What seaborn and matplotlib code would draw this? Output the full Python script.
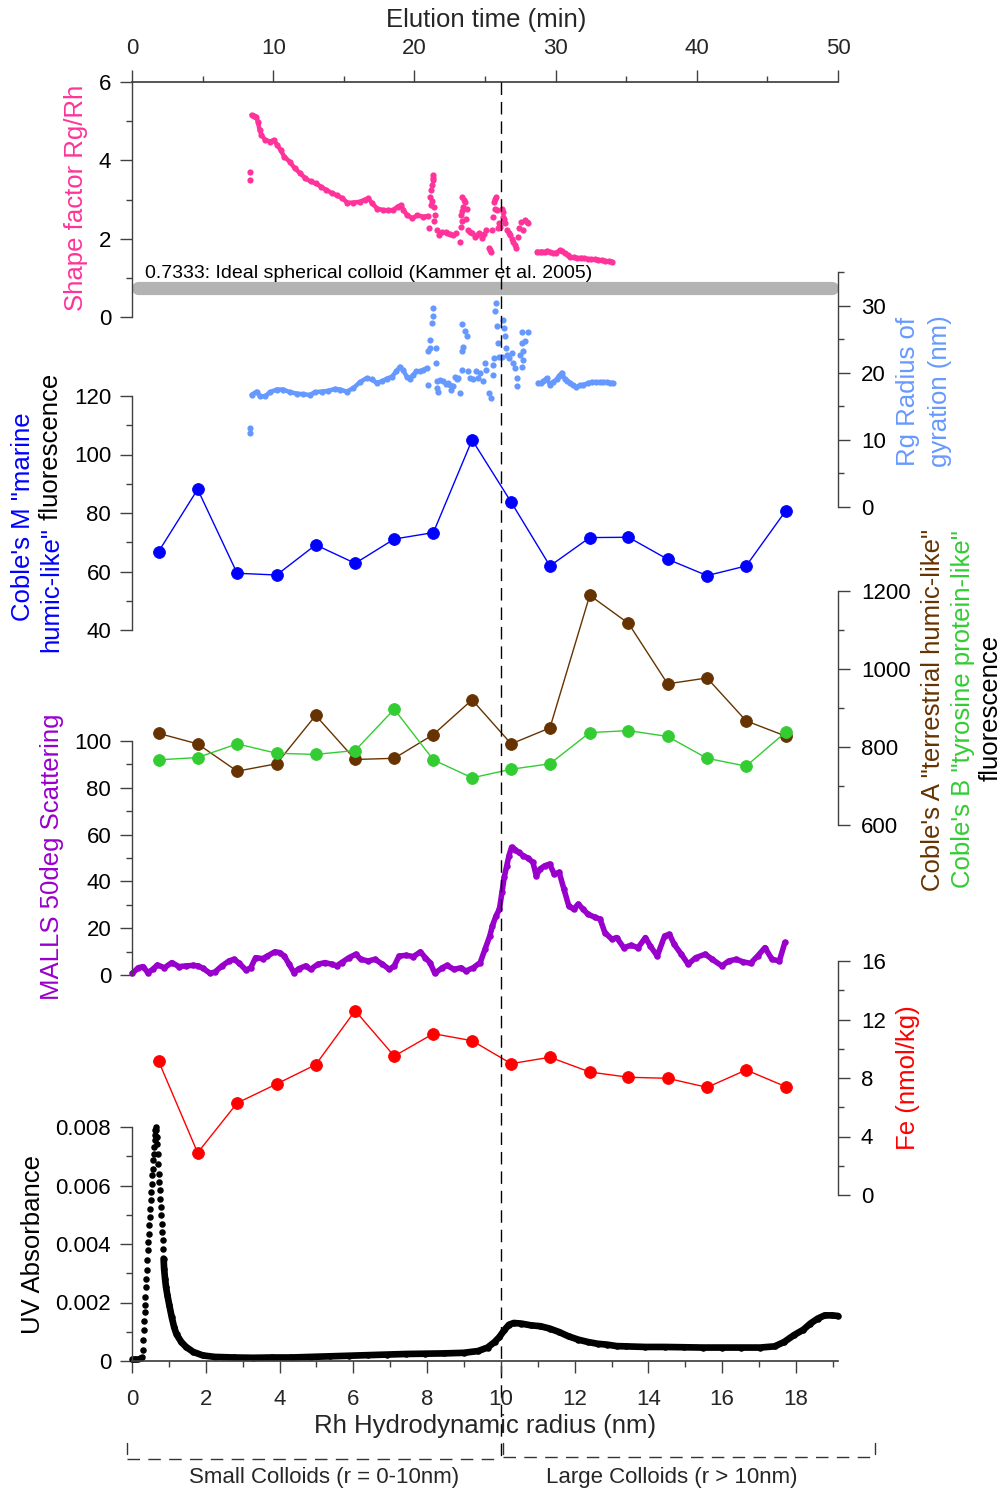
import numpy as np
import pandas as pd
import matplotlib
matplotlib.use("Agg")
import matplotlib.pyplot as plt
from matplotlib.lines import Line2D
from matplotlib.ticker import FixedLocator, FuncFormatter
from matplotlib.transforms import blended_transform_factory
import seaborn as sns

# ---------------- data ----------------
# collected fractions (hydrodynamic radius, nm)
fraction_rh = [0.72, 1.78, 2.85, 3.92, 4.98, 6.05, 7.11, 8.17, 9.22,
               10.28, 11.33, 12.41, 13.46, 14.52, 15.59, 16.65, 17.72]
coble_m = [66.8, 88.1, 59.4, 58.8, 69.1, 62.8, 71.1, 73.3, 105.0,
           83.7, 61.9, 71.6, 71.7, 64.2, 58.6, 61.9, 80.7]
coble_a = [835, 808, 738, 757, 881, 768, 771, 832, 921,
           808, 849, 1189, 1117, 962, 977, 867, 828]
coble_b = [767, 773, 808, 784, 781, 791, 897, 767, 721,
           743, 757, 837, 842, 827, 771, 751, 838]
fe_nmol = [9.16, 2.89, 6.29, 7.59, 8.91, 12.60, 9.50, 11.03, 10.55,
           8.98, 9.42, 8.41, 8.05, 7.98, 7.36, 8.55, 7.41]

# shape factor Rg/Rh
shape_rh = [3.24, 3.30, 3.37, 3.41, 3.46, 3.51, 3.61, 3.75, 3.84, 3.94,
            4.03, 4.13, 4.27, 4.41, 4.56, 4.70, 4.84, 4.98, 5.12, 5.27,
            5.41, 5.55, 5.70, 5.84, 5.98, 6.17, 6.32, 6.41, 6.51, 6.65,
            6.80, 6.94, 7.08, 7.20, 7.30, 7.36, 7.46, 7.60, 7.74, 7.89, 8.03]
shape_val = [5.16, 5.14, 5.11, 4.99, 4.77, 4.65, 4.52, 4.48, 4.52, 4.39,
             4.26, 4.09, 3.97, 3.80, 3.67, 3.54, 3.46, 3.41, 3.33, 3.24,
             3.17, 3.11, 3.03, 2.92, 2.92, 2.94, 3.00, 3.03, 2.90, 2.77,
             2.73, 2.73, 2.73, 2.82, 2.86, 2.73, 2.60, 2.52, 2.60, 2.56, 2.58]
shape_noisy_rh = [8.06, 8.08, 8.10, 8.13, 8.15, 8.17, 8.19, 8.22, 8.27, 8.31,
                  8.41, 8.50, 8.55, 8.62, 8.69, 8.79, 8.89, 8.91, 8.93, 8.95,
                  8.98, 9.03, 9.08, 9.12, 9.17, 9.22, 9.31, 9.36, 9.41, 9.50,
                  9.55, 9.60, 9.67, 9.70, 9.74, 9.77, 9.81, 9.87, 9.90, 9.93,
                  9.98, 10.03, 10.07, 10.12, 10.17, 10.22, 10.26, 10.30, 10.34, 10.38,
                  10.41, 10.46, 10.50, 10.55, 10.60, 10.65, 10.70, 10.74,
                  8.11, 8.14, 8.16, 8.20, 8.94, 8.96, 9.00, 9.05, 9.79, 9.83,
                  9.85, 9.95, 10.05, 10.09]
shape_noisy_val = [2.26, 3.07, 2.86, 3.37, 3.63, 3.50, 2.82, 2.60, 2.22, 2.09,
                   2.18, 2.16, 2.14, 2.12, 2.09, 2.14, 1.92, 2.31, 2.60, 3.07,
                   2.82, 2.94, 2.77, 2.22, 2.16, 2.14, 2.05, 2.10, 2.14, 2.01,
                   2.12, 2.22, 1.75, 1.70, 1.67, 2.22, 2.94, 3.07, 2.73, 2.26,
                   2.31, 2.77, 2.69, 2.39, 2.22, 2.15, 2.09, 2.00, 1.92, 1.85,
                   1.75, 2.05, 2.26, 2.43, 2.22, 2.48, 2.42, 2.39,
                   3.25, 2.95, 3.55, 2.45, 2.45, 2.70, 3.00, 2.50, 2.55, 2.75,
                   3.02, 2.40, 2.55, 2.50]
shape_tail_rh = [10.98, 11.05, 11.12, 11.19, 11.26, 11.33, 11.40, 11.50, 11.60, 11.67,
                 11.74, 11.81, 11.88, 11.97, 12.07, 12.16, 12.26, 12.36, 12.45, 12.55,
                 12.64, 12.74, 12.83, 12.93, 13.02]
shape_tail_val = [1.67, 1.66, 1.67, 1.65, 1.69, 1.66, 1.63, 1.64, 1.71, 1.68,
                  1.63, 1.58, 1.54, 1.52, 1.50, 1.51, 1.50, 1.48, 1.47, 1.47,
                  1.46, 1.45, 1.43, 1.42, 1.41]
shape_early_rh = [3.195, 3.195]
shape_early_val = [3.71, 3.50]
ideal_shape = 0.7333

# radius of gyration (nm)
rg_rh = [3.24, 3.38, 3.47, 3.61, 3.74, 3.92, 4.10, 4.28, 4.46, 4.64,
         4.82, 4.96, 5.14, 5.32, 5.50, 5.64, 5.82, 6.00, 6.18, 6.36,
         6.50, 6.63, 6.77, 6.90, 7.04, 7.17, 7.26, 7.35, 7.45, 7.53,
         7.63, 7.71, 7.81, 7.90, 7.99]
rg_val = [16.7, 17.2, 16.5, 16.5, 17.1, 17.5, 17.5, 17.1, 16.9, 16.8,
          16.7, 17.1, 17.2, 17.3, 17.6, 17.5, 17.2, 17.7, 18.6, 19.2,
          19.0, 18.5, 18.7, 19.1, 19.4, 20.2, 20.9, 20.4, 19.4, 19.1,
          19.7, 20.2, 20.2, 20.4, 20.7]
rg_noisy_rh = [8.03, 8.08, 8.09, 8.12, 8.17, 8.17, 8.24, 8.24, 8.03, 8.26,
               8.28, 8.30, 8.44, 8.57, 8.71, 8.80, 8.85, 8.89, 8.94, 8.94,
               8.98, 9.03, 8.94, 9.07, 9.12, 9.16, 9.25, 9.33, 9.39, 9.43,
               9.52, 9.57, 9.61, 9.69, 9.72, 9.78, 9.80, 9.81, 9.84, 9.87,
               9.89, 9.91, 9.95, 10.02, 10.06, 10.08, 10.11, 10.14, 10.17, 10.23,
               10.29, 10.34, 10.38, 10.43, 10.44, 10.52, 10.56, 10.56, 10.61, 10.65,
               10.59, 10.56, 10.74, 8.36, 8.50, 8.63, 8.66, 8.76]
rg_noisy_val = [23.2, 23.7, 24.9, 27.4, 28.5, 29.7, 23.7, 21.4, 18.1, 18.7,
                17.7, 17.2, 18.7, 18.5, 18.0, 19.0, 19.2, 17.0, 20.4, 23.2,
                23.9, 26.2, 27.3, 25.4, 20.2, 19.2, 19.0, 20.2, 19.2, 20.0,
                18.7, 21.4, 20.4, 17.0, 16.2, 19.7, 21.2, 22.2, 29.2, 30.4,
                26.9, 24.4, 22.4, 22.4, 27.9, 26.7, 25.4, 23.7, 22.7, 22.2,
                22.9, 21.4, 20.7, 19.2, 18.0, 22.7, 24.4, 26.0, 23.2, 24.7,
                21.9, 20.9, 26.1, 18.9, 18.3, 18.2, 17.4, 19.3]
rg_tail_rh = [11.01, 11.08, 11.15, 11.24, 11.33, 11.42, 11.51, 11.58, 11.65, 11.74,
              11.80, 11.87, 11.96, 12.05, 12.14, 12.23, 12.35, 12.46, 12.57, 12.68,
              12.78, 12.87, 12.95, 13.03]
rg_tail_val = [18.5, 18.4, 18.7, 19.2, 18.2, 18.6, 19.0, 19.5, 20.0, 19.0,
               18.7, 18.5, 18.1, 17.9, 18.1, 18.2, 18.4, 18.6, 18.6, 18.6,
               18.6, 18.6, 18.5, 18.5]
rg_early_rh = [3.20, 3.20]
rg_early_val = [11.7, 11.0]

# MALLS 50 degree scattering
malls_rh = [0.01, 0.17, 0.30, 0.43, 0.56, 0.69, 0.88, 1.08, 1.27, 1.47,
            1.66, 1.79, 1.92, 2.12, 2.25, 2.44, 2.63, 2.76, 2.89, 3.09,
            3.22, 3.35, 3.54, 3.67, 3.87, 4.00, 4.13, 4.26, 4.39, 4.52,
            4.71, 4.84, 5.04, 5.23, 5.42, 5.55, 5.68, 5.88, 6.07, 6.20,
            6.40, 6.59, 6.79, 6.98, 7.11, 7.24, 7.43, 7.63, 7.82, 7.95,
            8.08, 8.21, 8.41, 8.54, 8.73, 8.92, 9.05, 9.25, 9.44, 9.57,
            9.70, 9.77, 9.87, 9.96, 10.03, 10.09, 10.16, 10.22, 10.29, 10.39,
            10.48, 10.61, 10.74, 10.87, 10.96, 11.06, 11.19, 11.32, 11.45, 11.58,
            11.71, 11.84, 11.97, 12.10, 12.23, 12.36, 12.56, 12.69, 12.82, 13.01,
            13.14, 13.33, 13.53, 13.72, 13.92, 14.05, 14.24, 14.44, 14.57, 14.70,
            14.89, 15.08, 15.28, 15.54, 15.73, 15.99, 16.18, 16.38, 16.57, 16.77,
            16.96, 17.16, 17.35, 17.55, 17.70]
malls_val = [0.7, 3.1, 3.6, 1.0, 2.4, 4.3, 3.1, 5.3, 3.6, 3.9,
             4.1, 3.9, 2.9, 0.7, 1.3, 3.9, 6.0, 6.7, 5.3, 2.1,
             3.1, 7.4, 7.0, 8.1, 9.9, 9.6, 8.1, 4.6, 1.0, 2.7,
             3.9, 2.4, 4.6, 5.3, 4.6, 3.9, 5.3, 7.4, 8.9, 6.7,
             6.0, 6.7, 4.6, 2.4, 3.9, 8.1, 8.4, 7.9, 9.9, 7.4,
             5.3, 0.7, 3.1, 4.1, 2.4, 3.1, 1.7, 3.1, 5.3, 11.0,
             16.7, 21.0, 25.3, 28.1, 35.3, 41.7, 46.7, 51.0, 54.6, 53.6,
             52.4, 51.0, 49.9, 48.1, 42.4, 45.3, 46.7, 47.4, 43.1, 43.9,
             36.7, 29.6, 28.1, 30.3, 28.1, 26.0, 24.6, 23.9, 18.1, 15.3,
             16.0, 11.7, 12.7, 11.7, 16.0, 12.4, 8.1, 16.7, 17.4, 13.1,
             8.9, 4.6, 7.4, 8.9, 6.7, 3.9, 6.0, 6.7, 5.6, 5.0,
             8.1, 11.7, 6.7, 6.0, 13.9]

# UV absorbance: sharp early peak, then the rest of the fractogram
uv_peak_rh = [0.00, 0.04, 0.08, 0.12, 0.17, 0.21, 0.25,
              0.274, 0.287, 0.300, 0.313, 0.326, 0.339, 0.352, 0.364, 0.377, 0.390,
              0.403, 0.416, 0.429, 0.442, 0.455, 0.468, 0.481, 0.494, 0.507, 0.520,
              0.533, 0.546, 0.559, 0.572, 0.585, 0.598, 0.611, 0.624, 0.637, 0.650,
              0.663, 0.676, 0.689, 0.701, 0.714, 0.727, 0.740, 0.753, 0.766, 0.779,
              0.792, 0.805, 0.818, 0.831, 0.844]
uv_peak_val = [0.00008, 0.00008, 0.00008, 0.00008, 0.00008, 0.00009, 0.00010,
               0.00014, 0.00039, 0.00071, 0.00105, 0.00137, 0.00168, 0.00190, 0.00219, 0.00253, 0.00281,
               0.00310, 0.00344, 0.00378, 0.00407, 0.00435, 0.00464, 0.00492, 0.00521, 0.00549, 0.00578,
               0.00606, 0.00635, 0.00658, 0.00686, 0.00709, 0.00732, 0.00754, 0.00772, 0.00789, 0.00800,
               0.00789, 0.00766, 0.00743, 0.00709, 0.00675, 0.00640, 0.00612, 0.00583, 0.00555, 0.00526,
               0.00498, 0.00470, 0.00441, 0.00413, 0.00384]
uv_rh = [0.857, 0.870, 0.896, 0.922, 0.961,
         1.013, 1.077, 1.142, 1.207, 1.337, 1.466, 1.661, 1.921, 2.245, 2.76,
         3.28, 3.80, 4.32, 4.84, 5.36, 5.88, 6.39, 6.91, 7.43, 7.95,
         8.47, 8.99, 9.38, 9.64, 9.83, 9.96, 10.09, 10.22, 10.35, 10.55,
         10.81, 11.07, 11.32, 11.58, 11.84, 12.10, 12.36, 12.62, 12.88, 13.14,
         13.40, 13.92, 14.44, 14.96, 15.47, 15.99, 16.51, 17.03, 17.42, 17.68,
         17.94, 18.20, 18.39, 18.59, 18.78, 18.98, 19.14]
uv_val = [0.00350, 0.00316, 0.00281, 0.00253, 0.00224,
          0.00190, 0.00150, 0.00116, 0.00091, 0.00065, 0.00048, 0.00031, 0.00019, 0.00014, 0.00012,
          0.00011, 0.00012, 0.00012, 0.00014, 0.00016, 0.00018, 0.00020, 0.00022, 0.00024, 0.00025,
          0.00026, 0.00028, 0.00034, 0.00046, 0.00065, 0.00082, 0.00105, 0.00124, 0.00130, 0.00128,
          0.00122, 0.00119, 0.00111, 0.00099, 0.00084, 0.00073, 0.00065, 0.00059, 0.00056, 0.00051,
          0.00050, 0.00048, 0.00048, 0.00047, 0.00046, 0.00046, 0.00046, 0.00046, 0.00050, 0.00065,
          0.00088, 0.00107, 0.00128, 0.00145, 0.00156, 0.00156, 0.00154]

size_boundary_nm = 10
rh_max = 19.14          # 50 min of elution
elution_max = 50

# tick positions
rh_ticks = [0, 2, 4, 6, 8, 10, 12, 14, 16, 18]
rh_minor = [1, 3, 5, 7, 9, 11, 13, 15, 17, 19]
time_ticks = [0, 10, 20, 30, 40, 50]
time_minor = [5, 15, 25, 35, 45]

# ---------------- style ----------------
sns.set_theme(style="ticks")
plt.rcParams["font.family"] = ["Liberation Sans", "DejaVu Sans"]
plt.rcParams["lines.scale_dashes"] = False

C_PINK = "#ff3399"
C_LBLUE = "#6699ff"
C_BLUE = "#0000ff"
C_BROWN = "#663300"
C_GREEN = "#33cc33"
C_PURPLE = "#9900cc"
C_RED = "#ff0000"
AX_COL = "#404040"
TICK_FS = 16
LABEL_FS = 18.5

W, H = 1004, 1493
fig = plt.figure(figsize=(W / 100, H / 100), dpi=100)
fig.patch.set_facecolor("white")
X0, X1 = 132, 838


def fx(px):
    return px / W


def fy(py):
    return 1 - py / H


def band(top, bottom, ylim):
    ax = fig.add_axes([fx(X0), fy(bottom), (X1 - X0) / W, (bottom - top) / H])
    ax.patch.set_visible(False)
    for s in ax.spines.values():
        s.set_visible(False)
    ax.set_xticks([])
    ax.tick_params(axis="y", which="both", left=False, right=False,
                   labelleft=False, labelright=False)
    ax.set_xlim(0, rh_max)
    ax.set_ylim(*ylim)
    return ax


fmt = FuncFormatter(lambda v, _: "0" if abs(v) < 1e-12 else f"{v:g}")


def yaxis(ax, side, majors, minors):
    sp = ax.spines[side]
    sp.set_visible(True)
    sp.set_color(AX_COL)
    sp.set_linewidth(1.0)
    if side == "right":
        ax.yaxis.tick_right()
        ax.tick_params(axis="y", which="both", right=True, labelright=True)
    else:
        ax.yaxis.tick_left()
        ax.tick_params(axis="y", which="both", left=True, labelleft=True)
    ax.yaxis.set_major_locator(FixedLocator(majors))
    ax.yaxis.set_minor_locator(FixedLocator(minors))
    ax.yaxis.set_major_formatter(fmt)
    ax.tick_params(axis="y", which="major", direction="out", length=8.5, width=1,
                   color=AX_COL, labelcolor="black", labelsize=TICK_FS,
                   pad=6.5 if side == "left" else 8)
    ax.tick_params(axis="y", which="minor", direction="out", length=4.5, width=1,
                   color=AX_COL)


def trace(ax, x, y, color, lw=3.2, s=20):
    d = pd.DataFrame({"x": x, "y": y})
    sns.lineplot(data=d, x="x", y="y", ax=ax, color=color, linewidth=lw,
                 sort=False, estimator=None)
    sns.scatterplot(data=d, x="x", y="y", ax=ax, color=color, s=s, linewidth=0)


def dots(ax, x, y, color, s=20):
    d = pd.DataFrame({"x": x, "y": y})
    sns.scatterplot(data=d, x="x", y="y", ax=ax, color=color, s=s, linewidth=0)


def fractions(ax, y, color):
    d = pd.DataFrame({"x": fraction_rh, "y": y})
    sns.lineplot(data=d, x="x", y="y", ax=ax, color=color, linewidth=1.0,
                 marker="o", markersize=8.5, markeredgecolor=color,
                 markeredgewidth=0.6, sort=False, estimator=None)


# ---------------- panels ----------------
limits = {}
ax_shape = band(82, 317, (0, 6))
ax_rg = band(272, 507, (0, 35))
ax_m = band(396, 630, (40, 120))
ax_ab = band(591, 825, (600, 1200))
ax_malls = band(741, 975, (0, 100))
ax_fe = band(961, 1195, (0, 16))
ax_uv = band(1127, 1361, (0, 0.008))

# shape factor
ax_shape.axhline(ideal_shape, xmin=0.009, xmax=0.991, color="#b3b3b3", lw=9.5,
                 solid_capstyle="round", zorder=1)
ax_shape.text(0.35, ideal_shape + 0.37,
              "0.7333: Ideal spherical colloid (Kammer et al. 2005)",
              fontsize=14, color="black", ha="left", va="center")
trace(ax_shape, shape_rh, shape_val, C_PINK)
dots(ax_shape, shape_noisy_rh, shape_noisy_val, C_PINK)
trace(ax_shape, shape_tail_rh, shape_tail_val, C_PINK)
dots(ax_shape, shape_early_rh, shape_early_val, C_PINK)
yaxis(ax_shape, "left", [0, 2, 4, 6], [1, 3, 5])

# radius of gyration
trace(ax_rg, rg_rh, rg_val, C_LBLUE)
dots(ax_rg, rg_noisy_rh, rg_noisy_val, C_LBLUE)
trace(ax_rg, rg_tail_rh, rg_tail_val, C_LBLUE)
dots(ax_rg, rg_early_rh, rg_early_val, C_LBLUE)
yaxis(ax_rg, "right", [0, 10, 20, 30], [5, 15, 25, 35])

# fluorescence
fractions(ax_m, coble_m, C_BLUE)
yaxis(ax_m, "left", [40, 60, 80, 100, 120], [50, 70, 90, 110])
fractions(ax_ab, coble_a, C_BROWN)
fractions(ax_ab, coble_b, C_GREEN)
yaxis(ax_ab, "right", [600, 800, 1000, 1200], [700, 900, 1100])

# light scattering
trace(ax_malls, malls_rh, malls_val, C_PURPLE, lw=4.0, s=22)
yaxis(ax_malls, "left", [0, 20, 40, 60, 80, 100], [10, 30, 50, 70, 90])

# iron
fractions(ax_fe, fe_nmol, C_RED)
yaxis(ax_fe, "right", [0, 4, 8, 12, 16], [2, 6, 10, 14])

# UV absorbance
dots(ax_uv, uv_peak_rh, uv_peak_val, "black", s=22)
trace(ax_uv, uv_rh, uv_val, "black", lw=4.8, s=22)
yaxis(ax_uv, "left", [0, 0.002, 0.004, 0.006, 0.008], [0.001, 0.003, 0.005, 0.007])

for ax, lim in [(ax_shape, (0, 6)), (ax_rg, (0, 35)), (ax_m, (40, 120)),
                (ax_ab, (600, 1200)), (ax_malls, (0, 100)), (ax_fe, (0, 16)),
                (ax_uv, (0, 0.008))]:
    ax.set_xlim(0, rh_max)
    ax.set_ylim(*lim)
    ax.set_xlabel("")
    ax.set_ylabel("")
    for art in list(ax.lines) + list(ax.collections):
        art.set_clip_on(False)

# bottom axis: hydrodynamic radius
ax_uv.spines["bottom"].set_visible(True)
ax_uv.spines["bottom"].set_color(AX_COL)
ax_uv.xaxis.set_major_locator(FixedLocator(rh_ticks))
ax_uv.xaxis.set_minor_locator(FixedLocator(rh_minor))
ax_uv.tick_params(axis="x", which="both", bottom=True, labelbottom=True,
                  direction="out", color=AX_COL, width=1)
ax_uv.tick_params(axis="x", which="major", length=8.5, labelsize=TICK_FS, pad=12)
ax_uv.tick_params(axis="x", which="minor", length=4.5)

# top axis: elution time
ax_time = ax_shape.secondary_xaxis(
    "top", functions=(lambda r: r * elution_max / rh_max,
                      lambda t: t * rh_max / elution_max))
ax_time.xaxis.set_major_locator(FixedLocator(time_ticks))
ax_time.xaxis.set_minor_locator(FixedLocator(time_minor))
ax_time.tick_params(axis="x", which="major", direction="out", length=8.5, width=1,
                    color=AX_COL, labelsize=TICK_FS, pad=8)
ax_time.tick_params(axis="x", which="minor", direction="out", length=4.5, width=1,
                    color=AX_COL)
for s in ax_time.spines.values():
    s.set_color(AX_COL)

# size boundary between small and large colloids
trans = blended_transform_factory(ax_uv.transData, fig.transFigure)
ax_uv.plot([size_boundary_nm, size_boundary_nm], [fy(82), fy(1461)], transform=trans,
           color="black", lw=1.0, dashes=(9, 5), clip_on=False, zorder=0)

# colloid size-class brackets
for x0, x1, yl in [(127, 496, 1459), (503, 870, 1457)]:
    fig.add_artist(Line2D([fx(x0), fx(x1)], [fy(yl), fy(yl)], color="#333333",
                          lw=1.0, dashes=(9, 6)))
for xt in [127, 503, 875]:
    fig.add_artist(Line2D([fx(xt), fx(xt)], [fy(1443), fy(1454)], color="#333333", lw=1.0))
fig.text(fx(324), fy(1477), "Small Colloids (r = 0-10nm)", fontsize=16,
         ha="center", va="center")
fig.text(fx(672), fy(1477), "Large Colloids (r > 10nm)", fontsize=16,
         ha="center", va="center")

# axis titles
fig.text(fx(486), fy(20), "Elution time (min)", fontsize=LABEL_FS, ha="center", va="center")
fig.text(fx(485), fy(1426), "Rh Hydrodynamic radius (nm)", fontsize=LABEL_FS,
         ha="center", va="center")


def vlabel(xp, yp, s, color):
    fig.text(fx(xp), fy(yp), s, rotation=90, rotation_mode="anchor", ha="center",
             va="center", color=color, fontsize=LABEL_FS)


def vlabel_parts(xp, yc, parts):
    r = fig.canvas.get_renderer()
    texts, total = [], 0.0
    for s, c in parts:
        t = fig.text(fx(xp), fy(yc), s, rotation=90, rotation_mode="anchor", ha="left",
                     va="center", color=c, fontsize=LABEL_FS)
        h = t.get_window_extent(renderer=r).height
        texts.append((t, h))
        total += h
    y = yc + total / 2
    for t, h in texts:
        t.set_position((fx(xp), fy(y)))
        y -= h


vlabel(76, 198, "Shape factor Rg/Rh", C_PINK)
vlabel(23, 517, "Coble's M \"marine", C_BLUE)
vlabel_parts(51, 513, [("humic-like\"", C_BLUE), (" fluorescence", "black")])
vlabel(52, 857, "MALLS 50deg Scattering", C_PURPLE)
vlabel(33, 1245, "UV Absorbance", "black")
vlabel(908, 391, "Rg Radius of", C_LBLUE)
vlabel(940, 391, "gyration (nm)", C_LBLUE)
vlabel(933, 710, "Coble's A \"terrestrial humic-like\"", C_BROWN)
vlabel(963, 709, "Coble's B \"tyrosine protein-like\"", C_GREEN)
vlabel(991, 708, "fluorescence", "black")
vlabel(908, 1078, "Fe (nmol/kg)", C_RED)

fig.savefig("out.png", dpi=100)
